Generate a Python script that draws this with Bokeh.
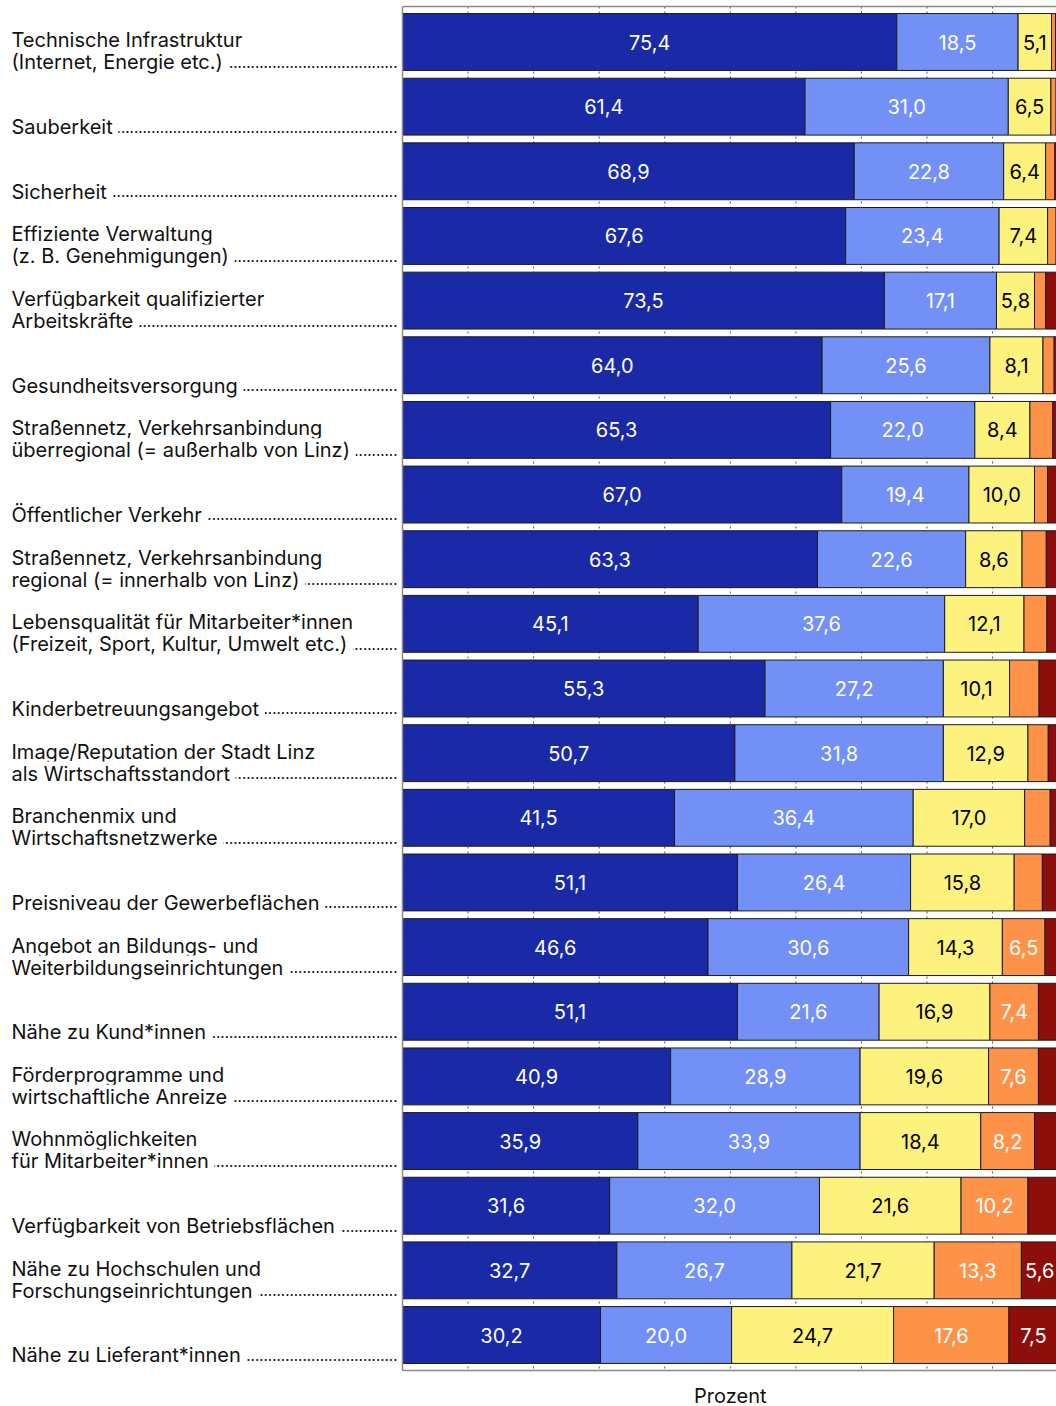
from bokeh.plotting import figure
from bokeh.models import Range1d, Label, ColumnDataSource
from bokeh.core.properties import value
from bokeh.embed import file_html
from bokeh.resources import INLINE

# ---------------- data ----------------
labels = [
    ["Technische Infrastruktur", "(Internet, Energie etc.)"],
    ["Sauberkeit"],
    ["Sicherheit"],
    ["Effiziente Verwaltung", "(z. B. Genehmigungen)"],
    ["Verfügbarkeit qualifizierter", "Arbeitskräfte"],
    ["Gesundheitsversorgung"],
    ["Straßennetz, Verkehrsanbindung", "überregional (= außerhalb von Linz)"],
    ["Öffentlicher Verkehr"],
    ["Straßennetz, Verkehrsanbindung", "regional (= innerhalb von Linz)"],
    ["Lebensqualität für Mitarbeiter*innen", "(Freizeit, Sport, Kultur, Umwelt etc.)"],
    ["Kinderbetreuungsangebot"],
    ["Image/Reputation der Stadt Linz", "als Wirtschaftsstandort"],
    ["Branchenmix und", "Wirtschaftsnetzwerke"],
    ["Preisniveau der Gewerbeflächen"],
    ["Angebot an Bildungs- und", "Weiterbildungseinrichtungen"],
    ["Nähe zu Kund*innen"],
    ["Förderprogramme und", "wirtschaftliche Anreize"],
    ["Wohnmöglichkeiten", "für Mitarbeiter*innen"],
    ["Verfügbarkeit von Betriebsflächen"],
    ["Nähe zu Hochschulen und", "Forschungseinrichtungen"],
    ["Nähe zu Lieferant*innen"],
]

stufe_1 = [75.4, 61.4, 68.9, 67.6, 73.5, 64.0, 65.3, 67.0, 63.3, 45.1, 55.3,
           50.7, 41.5, 51.1, 46.6, 51.1, 40.9, 35.9, 31.6, 32.7, 30.2]
stufe_2 = [18.5, 31.0, 22.8, 23.4, 17.1, 25.6, 22.0, 19.4, 22.6, 37.6, 27.2,
           31.8, 36.4, 26.4, 30.6, 21.6, 28.9, 33.9, 32.0, 26.7, 20.0]
stufe_3 = [5.1, 6.5, 6.4, 7.4, 5.8, 8.1, 8.4, 10.0, 8.6, 12.1, 10.1,
           12.9, 17.0, 15.8, 14.3, 16.9, 19.6, 18.4, 21.6, 21.7, 24.7]
stufe_4 = [0.6, 0.8, 1.4, 1.3, 1.7, 1.7, 3.5, 2.0, 3.7, 3.5, 4.5,
           3.1, 3.9, 4.3, 6.5, 7.4, 7.6, 8.2, 10.2, 13.3, 17.6]
stufe_5 = [0.4, 0.3, 0.5, 0.3, 1.9, 0.6, 0.8, 1.6, 1.8, 1.7, 2.9,
           1.5, 1.2, 2.4, 2.0, 3.0, 3.0, 3.6, 4.6, 5.6, 7.5]

axis_title = "Prozent"
grid_ticks = [10, 20, 30, 40, 50, 60, 70, 80, 90]

# ---------------- styling / layout ----------------
colors = ["#1a29a6", "#7390f7", "#fdf27e", "#fe9249", "#8e0e0c"]
text_colors = ["white", "white", "black", "white", "white"]
FONT = "Inter"

W, H = 1056, 1406
PX_PER_PCT = 6.556      # horizontal pixels per percent
ROW_PX = 64.65          # vertical pixels per row
X0_PX = 402             # pixel position of 0 %
ROW0_PX = 41.5          # pixel centre of first row
FRAME_TOP_PX, FRAME_BOT_PX = 6, 1370
BASELINE_FIX_PX = 8     # label baseline correction


def xd(px):
    return (px - X0_PX) / PX_PER_PCT


def yd(py):
    return (py - ROW0_PX) / ROW_PX


n = len(labels)
rows = list(range(n))
series = ["s1", "s2", "s3", "s4", "s5"]
source = ColumnDataSource(dict(row=rows, s1=stufe_1, s2=stufe_2, s3=stufe_3,
                               s4=stufe_4, s5=stufe_5))

p = figure(width=W, height=H, output_backend="svg", toolbar_location=None, tools="",
           x_range=Range1d(xd(0), xd(W)), y_range=Range1d(yd(H), yd(0)),
           min_border=0, x_axis_type=None, y_axis_type=None)
p.outline_line_color = None
p.background_fill_color = "white"
p.border_fill_color = "white"
p.grid.visible = False

y_top, y_bot = yd(FRAME_TOP_PX), yd(FRAME_BOT_PX)

# dashed vertical grid lines (visible in the gaps between bars)
p.segment(x0=grid_ticks, x1=grid_ticks, y0=[y_top] * len(grid_ticks),
          y1=[y_bot] * len(grid_ticks), line_color="#555555", line_width=1,
          line_dash="2 3")

p.hbar_stack(series, y="row", height=0.88, color=colors, source=source,
             line_color="#1c1c1c", line_width=1)

# frame lines: top, bottom, left
x_right = xd(W + 5)
p.segment(x0=[0, 0, 0], x1=[x_right, x_right, 0], y0=[y_top, y_bot, y_top],
          y1=[y_top, y_bot, y_bot], line_color="#8a8a8a", line_width=1.5)

# value labels inside segments
vx, vy, vt, vc = [], [], [], []
all_series = [stufe_1, stufe_2, stufe_3, stufe_4, stufe_5]
for i in rows:
    cum = 0.0
    for k, ser in enumerate(all_series):
        v = ser[i]
        if v >= 5.0:
            vx.append(cum + v / 2)
            vy.append(i)
            vt.append(f"{v:.1f}".replace(".", ","))
            vc.append(text_colors[k])
        cum += v
p.text(x="vx", y="vy", text="vt", text_color="vc",
       source=ColumnDataSource(dict(vx=vx, vy=vy, vt=vt, vc=vc)),
       text_font=value(FONT), text_font_size="20px",
       text_align="center", text_baseline="middle")

# category labels with dot leaders
lab_x = xd(11)
dots_x = xd(397)
line_gap = 22 / ROW_PX
fix = BASELINE_FIX_PX / ROW_PX
for i, lines in enumerate(labels):
    base = i + 0.44 - fix
    p.add_layout(Label(x=dots_x, y=base, text="." * 86, text_align="right",
                       text_baseline="alphabetic", text_font=FONT,
                       text_font_size="15px", text_color="#111111"))
    nl = len(lines)
    for j, line in enumerate(lines):
        yy = base - (nl - 1 - j) * line_gap
        last = (j == nl - 1)
        p.add_layout(Label(x=lab_x, y=yy, text=line + (" " if last else ""),
                           text_align="left", text_baseline="alphabetic",
                           text_font=FONT, text_font_size="20px",
                           text_color="#111111",
                           background_fill_color="white" if last else None))

# axis title
p.add_layout(Label(x=50, y=yd(1403 - BASELINE_FIX_PX), text=axis_title,
                   text_align="center", text_baseline="alphabetic",
                   text_font=FONT, text_font_size="20px", text_color="#111111"))

open("out.html", "w").write(file_html(p, INLINE))
